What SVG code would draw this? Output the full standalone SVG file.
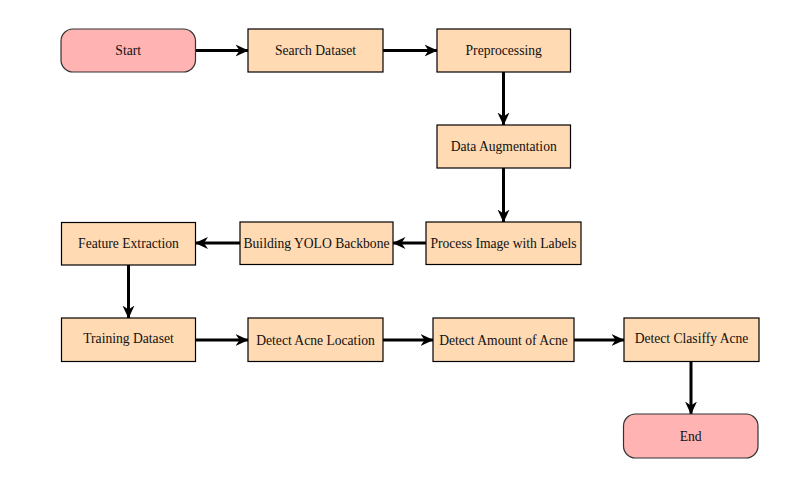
<svg xmlns="http://www.w3.org/2000/svg" width="791" height="481" viewBox="0 0 791 481">
<style>
.box{fill:#FFDAB3;stroke:#000;stroke-width:1.2}
.term{fill:#FFB3B3;stroke:#333;stroke-width:1.2}
.lbl{font-family:"Liberation Serif","Times New Roman",serif;font-size:13.6px;fill:#111;text-anchor:middle}
.conn{stroke:#000;stroke-width:3;fill:none;marker-end:url(#ah)}
</style>
<defs>
<marker id="ah" markerUnits="userSpaceOnUse" viewBox="0 0 13 13" refX="12.5" refY="6.5" markerWidth="13" markerHeight="13" orient="auto">
<path d="M0,0.5 L13,6.5 L0,12.5 L4,6.5 Z" fill="#000"/>
</marker>
</defs>
<rect width="791" height="481" fill="#fff"/>
<g id="connectors">
<line class="conn" x1="195" y1="50.5" x2="248" y2="50.5"/>
<line class="conn" x1="383" y1="50.5" x2="437" y2="50.5"/>
<line class="conn" x1="503.5" y1="72" x2="503.5" y2="125"/>
<line class="conn" x1="503.5" y1="168" x2="503.5" y2="222"/>
<line class="conn" x1="426" y1="243" x2="393" y2="243"/>
<line class="conn" x1="240" y1="243" x2="195.5" y2="243"/>
<line class="conn" x1="128.5" y1="265" x2="128.5" y2="318"/>
<line class="conn" x1="195.5" y1="340" x2="248" y2="340"/>
<line class="conn" x1="383" y1="340" x2="433" y2="340"/>
<line class="conn" x1="574" y1="340" x2="624" y2="340"/>
<line class="conn" x1="691" y1="362" x2="691" y2="414"/>
</g>
<g id="start"><rect class="term" x="61" y="29" width="134.5" height="43" rx="12"/><text class="lbl" x="128.2" y="55">Start</text></g>
<g id="search"><rect class="box" x="248" y="29" width="135" height="43"/><text class="lbl" x="315.5" y="55">Search Dataset</text></g>
<g id="prep"><rect class="box" x="437" y="29" width="133.5" height="43"/><text class="lbl" x="503.7" y="55">Preprocessing</text></g>
<g id="aug"><rect class="box" x="437" y="125" width="133.5" height="43"/><text class="lbl" x="503.7" y="151">Data Augmentation</text></g>
<g id="process"><rect class="box" x="426" y="222" width="155" height="42.5"/><text class="lbl" x="503.5" y="247.5">Process Image with Labels</text></g>
<g id="yolo"><rect class="box" x="240" y="222" width="153" height="42.5"/><text class="lbl" x="316.5" y="247.5">Building YOLO Backbone</text></g>
<g id="feature"><rect class="box" x="61.5" y="222.5" width="134" height="42.5"/><text class="lbl" x="128.5" y="248">Feature Extraction</text></g>
<g id="training"><rect class="box" x="61.5" y="318" width="134" height="43.5"/><text class="lbl" x="128.5" y="343">Training Dataset</text></g>
<g id="location"><rect class="box" x="248" y="318" width="135" height="43.5"/><text class="lbl" x="315.5" y="345">Detect Acne Location</text></g>
<g id="amount"><rect class="box" x="433" y="318" width="141" height="43.5"/><text class="lbl" x="503.5" y="345">Detect Amount of Acne</text></g>
<g id="classify"><rect class="box" x="624" y="318" width="135" height="43.5"/><text class="lbl" x="691.5" y="343">Detect Clasiffy Acne</text></g>
<g id="end"><rect class="term" x="623.5" y="414" width="134.5" height="44" rx="12"/><text class="lbl" x="690.7" y="441">End</text></g>
</svg>
